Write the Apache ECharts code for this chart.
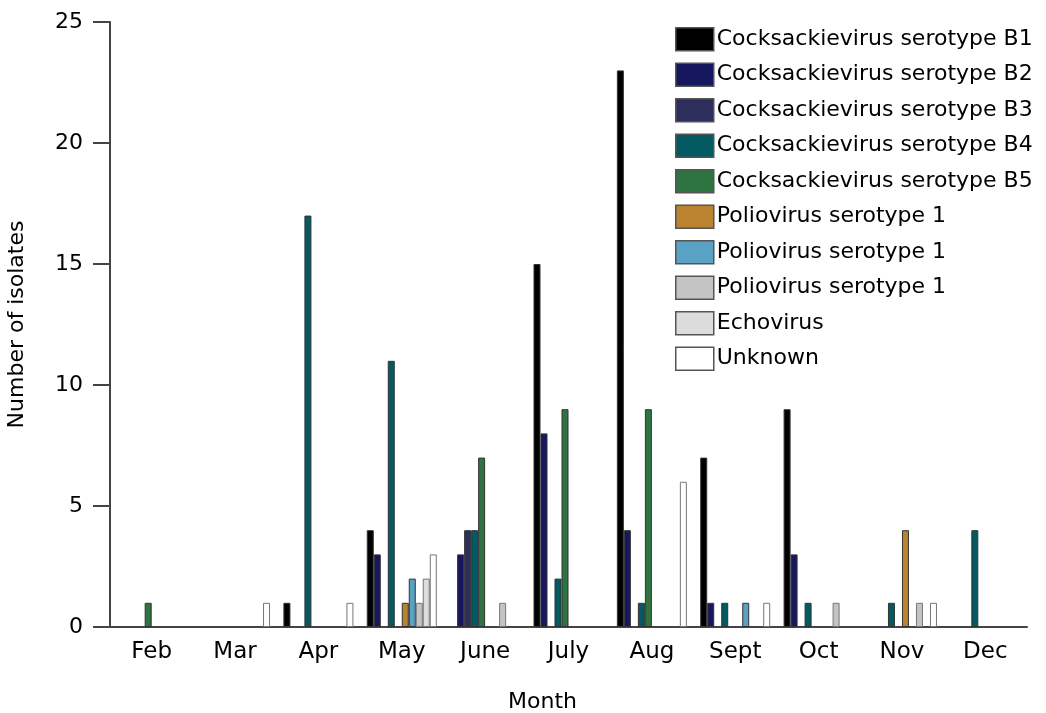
<!DOCTYPE html>
<html>
<head>
<meta charset="utf-8">
<script src="https://cdn.jsdelivr.net/npm/echarts@6/dist/echarts.min.js"></script>
<style>
  html, body { margin: 0; padding: 0; background: #fff; }
  #chart { width: 1046px; height: 713px; }
</style>
</head>
<body>
<div id="chart"></div>
<script>
const months = ['Feb', 'Mar', 'Apr', 'May', 'June', 'July', 'Aug', 'Sept', 'Oct', 'Nov', 'Dec'];
const seriesNames = [
  'Cocksackievirus serotype B1',
  'Cocksackievirus serotype B2',
  'Cocksackievirus serotype B3',
  'Cocksackievirus serotype B4',
  'Cocksackievirus serotype B5',
  'Poliovirus serotype 1 ',
  'Poliovirus serotype 1  ',
  'Poliovirus serotype 1   ',
  'Echovirus',
  'Unknown'
];
const colors = ['#000000', '#17175f', '#2e2e5c', '#035a63', '#2e7440', '#b9832f', '#5aa2c4', '#c4c4c4', '#dcdcdc', '#ffffff'];

// values per series, one per month (null = no bar)
const b1      = [null, null, 1, 4, null, 15, 23, 7, 9, null, null];
const b2      = [null, null, null, 3, 3, 8, 4, 1, 3, null, null];
const b3      = [null, null, null, null, 4, null, null, null, null, null, null];
const b4      = [null, null, 17, 11, 4, 2, 1, 1, 1, 1, 4];
const b5      = [1, null, null, null, 7, 9, 9, null, null, null, null];
const polioA  = [null, null, null, 1, null, null, null, null, null, 4, null];
const polioB  = [null, null, null, 2, null, null, null, 1, null, null, null];
const polioC  = [null, null, null, 1, 1, null, null, null, 1, 1, null];
const echo    = [null, null, null, 2, null, null, null, null, null, null, null];
const unknown = [null, 1, 1, 3, null, null, 6, 1, null, 1, null];

const yTicks = [0, 5, 10, 15, 20, 25];

const allData = [b1, b2, b3, b4, b5, polioA, polioB, polioC, echo, unknown];
const font = 'DejaVu Sans';

const chart = echarts.init(document.getElementById('chart'));

chart.setOption({
  animation: false,
  textStyle: { fontFamily: font },
  grid: { left: 110, right: 19, top: 22, bottom: 86, containLabel: false, outerBoundsMode: 'none' },
  legend: {
    orient: 'vertical',
    left: 670,
    top: 22,
    icon: 'rect',
    itemWidth: 38,
    itemHeight: 23,
    itemGap: 11,
    data: seriesNames,
    textStyle: { fontFamily: font, fontSize: 22, color: '#000', padding: [0, 0, 0, -2] },
    itemStyle: { borderColor: '#555', borderWidth: 1.5 }
  },
  xAxis: {
    type: 'category',
    data: months,
    name: 'Month',
    nameLocation: 'middle',
    nameGap: 64,
    nameTextStyle: { fontFamily: font, fontSize: 22, color: '#000', padding: [0, 52, 0, 0] },
    axisLine: { lineStyle: { color: '#444', width: 2 } },
    axisTick: { length: 16, lineStyle: { color: '#444', width: 2 } },
    axisLabel: { fontFamily: font, fontSize: 23, color: '#000', margin: 14 }
  },
  yAxis: {
    type: 'value',
    min: yTicks[0],
    max: yTicks[yTicks.length - 1],
    interval: 5,
    name: 'Number of isolates',
    nameLocation: 'middle',
    nameGap: 82,
    nameTextStyle: { fontFamily: font, fontSize: 22, color: '#000' },
    axisLine: { show: true, lineStyle: { color: '#444', width: 2 } },
    axisTick: { show: true, length: 17, lineStyle: { color: '#444', width: 2 } },
    axisLabel: { fontFamily: font, fontSize: 22, color: '#000', margin: 27 },
    splitLine: { show: false }
  },
  series: seriesNames.map((name, i) => ({
    name: name,
    type: 'bar',
    data: allData[i],
    barWidth: 7,
    barGap: '0%',
    itemStyle: {
      color: colors[i],
      borderColor: i >= 7 ? '#777' : '#333',
      borderWidth: 1
    }
  }))
});
</script>
</body>
</html>
